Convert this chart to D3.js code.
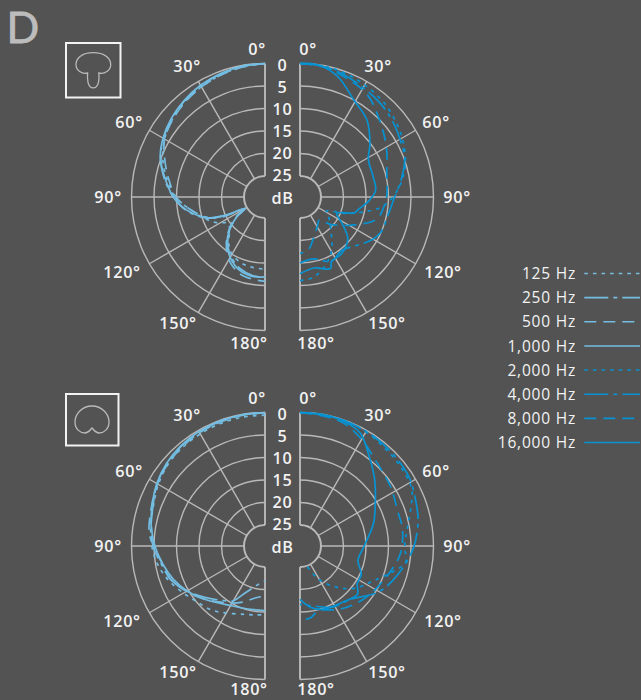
<!DOCTYPE html>
<html><head><meta charset="utf-8">
<script src="https://cdn.jsdelivr.net/npm/d3@7"></script>
<style>
html,body{margin:0;padding:0;background:#535353;overflow:hidden}
text{font-family:"Open Sans",sans-serif;font-weight:600;fill:#f2f2f2;letter-spacing:.7px}
</style></head><body><svg id="c" width="641" height="700"></svg>
<script>
// ---- data: [angle in degrees, attenuation in dB]
const frequencies = ["125 Hz","250 Hz","500 Hz","1,000 Hz","2,000 Hz","4,000 Hz","8,000 Hz","16,000 Hz"];
const dbTicks = [0,5,10,15,20,25];
const angleTicks = [0,30,60,90,120,150,180];

const a125 = [[0,0],[10,.3],[20,.8],[30,1.4],[40,2],[50,2.8],[60,3.9],[70,5.5],[80,7.6],[90,9.7],[100,13],[110,15.5],[118,17.5],[125,19.5],[133,19],[141,16.8],[150,15],[162,14],[170,13.8],[180,13.6]];
const a250 = [[0,0],[10,.2],[20,.6],[30,1.1],[40,1.8],[50,2.6],[60,3.6],[70,5],[80,7],[90,9.3],[100,12],[110,16],[115,20],[120,24.5],[125,22],[133,19],[141,16.5],[150,14.5],[161,12.8],[171,12],[180,11.8]];
const a500 = [[0,0],[10,.4],[20,.9],[30,1.4],[40,2.1],[50,2.9],[60,3.9],[70,6],[80,8],[90,9.9],[100,13],[110,16.2],[115,19],[120,24],[125,21.5],[133,18.6],[141,16],[150,13.6],[161,11.8],[171,11.2],[180,10.9]];
const a1000 = [[0,0],[10,.1],[20,.5],[30,1],[40,1.7],[50,2.5],[60,3.5],[70,4.9],[80,7.2],[90,9.3],[100,12.2],[110,16.2],[115,20.3],[120,24.7],[125,22],[133,18.9],[141,16.2],[150,14.2],[161,12.4],[171,11.8],[180,11.9]];

const b2000 = [[0,0],[10,.1],[20,.4],[30,.9],[40,1.5],[46,2],[55,2.9],[63,3.8],[73,5.2],[85,7.7],[96,11],[103,15],[110,19],[118,23],[127,21.5],[136,19.8],[150,15.7],[160,13.4],[171,11.5],[180,11.1]];
const b4000 = [[0,0],[10,.2],[20,.8],[30,1.6],[40,2.2],[50,3],[60,4],[70,4.9],[80,6.8],[92,8.9],[100,9.6],[114,10.1],[121,11.1],[130,13],[142,14.6],[154,13.8],[168,15.6],[180,15]];
const b8000 = [[0,0],[10,.3],[20,1.2],[33,2.4],[46,5.1],[60,7.5],[75,9.7],[90,10.4],[98,11],[106,11.9],[117,16],[132,20.6],[140,23],[150,22],[162,20],[171,17.8],[180,17.1]];
const b16000 = [[0,0],[7,0],[17,1.5],[29,5],[41,7],[53,10.2],[61,12.3],[75,12.8],[85,12.8],[93.5,14.4],[102,16.4],[106,17],[114,20.7],[121.6,18.8],[131,15.6],[144,14],[153.7,13.8],[157,12.4],[169,13.6],[180,12.6]];

const c125 = [[0,.6],[10,.6],[20,.7],[30,.9],[40,1.1],[50,1.5],[60,2.3],[70,3.3],[80,3.9],[90,4.5],[100,5.5],[110,7],[121,8.9],[130,10.2],[139,11],[148,12.2],[163,13.8],[172,14.2],[180,14.4]];
const c250 = [[0,0],[10,.1],[20,.2],[30,.4],[40,.7],[50,1.2],[60,2],[70,3.2],[80,4],[90,4.8],[100,6.3],[110,7.5],[120,9.7],[130,12],[140,14],[150,15.6],[156,18],[170,21],[180,21.9]];
const c500 = [[0,.1],[10,.2],[20,.4],[30,.6],[40,1],[50,1.4],[60,2.1],[70,2.9],[84,3.8],[90,5],[100,6.5],[110,7.5],[120,9.5],[130,11.5],[140,13.5],[150,15],[160,16.5],[170,18],[180,18.5]];
const c1000 = [[0,0],[10,.1],[20,.2],[30,.3],[40,.6],[50,1.1],[60,1.9],[70,3],[80,4],[90,5.2],[100,6.6],[110,8],[120,9.7],[130,11.5],[140,13.2],[150,14.4],[160,15],[170,15.3],[180,15.3]];

const d2000 = [[0,0],[10,.1],[20,.2],[30,.4],[44,1],[54,1.3],[63,1.8],[70.5,3.5],[80,5.4],[90,6.4],[98.7,5.9],[104,7.7],[115,11.5],[128,14.4],[138,17.3],[150.7,21.2],[161,25]];
const d4000 = [[0,0],[10,.1],[20,.1],[34,.3],[45,.6],[57.5,1],[68,2],[77.7,2.8],[90,4.3],[96,5.3],[103.7,6.6],[111.8,7.9],[121,9.6],[136.5,13.3],[152,14.3],[165,15.8],[180,16.7]];
const d8000 = [[0,0],[10,.3],[19.5,.7],[30,2.3],[40,4.1],[56.7,5.6],[69.7,6.6],[81,6.6],[94.4,7.3],[105,8.7],[124,10.7],[138.5,12.1],[149.7,13.3],[164,14.7],[172,13.5],[180,13.3]];
const d16000 = [[0,0],[10,0],[19,.3],[28,1.2],[37,4.3],[48.5,7.5],[58.4,10],[73,12.6],[90,15.4],[104,16.4],[114.5,14.7],[123.6,14.4],[130,13],[143,14],[159.6,14.7],[170,15.8],[180,17.8]];

// ---- styling / layout
const BG="#535353", GRID="#b9b9b9", LIGHT="#74bde2", DARK="#0693d3";
const dashes=["3.6 5","24 5 4 5","12 7","none"];
const styles=frequencies.map((f,i)=>({color:i<4?LIGHT:DARK,dash:dashes[i%4]}));
const R=133.5, FS=16.2;
const r=d3.scaleLinear().domain([0,25]).range([R,R-112.5]);
const dbLabelY=d3.scaleLinear().domain([0,25]).range([-132,-21.5]);
const labelOffsets={0:[8,-148],30:[78,-131],60:[136,-75],90:[157,0],120:[143,75],150:[87,126],180:[16,146]};
const svg=d3.select("#c");
svg.append("rect").attr("width",641).attr("height",700).attr("fill",BG);

svg.append("text").attr("x",6.5).attr("y",43).attr("font-size",43).style("font-family","Lato,sans-serif").style("fill","#bdbdbd").style("stroke","#bdbdbd").style("stroke-width",.8).style("font-weight",400).style("letter-spacing",0).text("D");

function half(cx,cy,s,series,styleIdx){
  const g=svg.append("g").attr("transform",`translate(${cx},${cy})`);
  const rad=d=>d*Math.PI/180*s;
  g.selectAll("path.ring").data(dbTicks).join("path").attr("class","ring")
    .attr("d",d=>`M0,${-r(d)}A${r(d)},${r(d)} 0 0 ${s>0?1:0} 0,${r(d)}`)
    .attr("fill","none").attr("stroke",GRID).attr("stroke-width",d=>d===25?2:1.4);
  g.selectAll("line.sp").data(angleTicks).join("line").attr("class","sp")
    .attr("x1",d=>Math.sin(rad(d))*r(25)).attr("y1",d=>-Math.cos(rad(d))*r(25))
    .attr("x2",d=>Math.sin(rad(d))*r(0)).attr("y2",d=>-Math.cos(rad(d))*r(0))
    .attr("stroke",GRID).attr("stroke-width",d=>(d===0||d===180)?1.9:1.4);
  const line=d3.lineRadial().angle(d=>rad(d[0])).radius(d=>r(d[1])).curve(d3.curveCatmullRom.alpha(.5));
  series.forEach((arr,i)=>{
    const st=styles[styleIdx+i];
    g.append("path").attr("d",line(arr)).attr("fill","none").attr("stroke",st.color)
      .attr("stroke-width",1.7).attr("stroke-dasharray",st.dash);
  });
  // the bottom row of labels is kept clear of the page edge
  const maxY=700-cy-FS*0.36-FS*0.3-0.3;
  g.selectAll("text.a").data(angleTicks).join("text").attr("class","a")
    .attr("x",d=>labelOffsets[d][0]*s).attr("y",d=>Math.min(labelOffsets[d][1],maxY)).attr("dy","0.36em")
    .attr("text-anchor","middle").attr("font-size",FS).text(d=>d+"°");
}

function dbLabels(cy){
  const g=svg.append("g").attr("transform",`translate(282.5,${cy})`);
  g.selectAll("text").data(dbTicks).join("text")
    .attr("y",d=>dbLabelY(d)).attr("dy","0.36em").attr("text-anchor","middle").attr("font-size",FS).text(d=>d);
  g.append("text").attr("y",1).attr("dy","0.36em").attr("text-anchor","middle").attr("font-size",FS).text("dB");
}

const cyTop=197, cyBot=546;
half(265,cyTop,-1,[a125,a250,a500,a1000],0);
half(300,cyTop,1,[b2000,b4000,b8000,b16000],4);
half(265,cyBot,-1,[c125,c250,c500,c1000],0);
half(300,cyBot,1,[d2000,d4000,d8000,d16000],4);
dbLabels(cyTop); dbLabels(cyBot);

// icons
svg.append("rect").attr("x",66).attr("y",43).attr("width",54.5).attr("height",54.5).attr("fill","none").attr("stroke","#f2f2f2").attr("stroke-width",2);
svg.append("path").attr("d","M93.2,52.7C82,52.7 76,58 76,64.5C76,70.5 82,74.5 87.6,73C87.2,78 87.2,87.8 93.2,87.8C99.2,87.8 99.4,78 98.8,73C104.6,74.5 110.7,70.5 110.7,64.5C110.7,58 104.5,52.7 93.2,52.7Z")
  .attr("fill","none").attr("stroke","#b9b9b9").attr("stroke-width",1.3);
svg.append("rect").attr("x",66).attr("y",394).attr("width",52.5).attr("height",51.5).attr("fill","none").attr("stroke","#f2f2f2").attr("stroke-width",2);
svg.append("path").attr("d","M92,406C82,406 75,414 75,422C75,429 80,433 85,433C88.5,433 90,430 92,428C94,430 95.5,433 99,433C104,433 109,429 109,422C109,414 102,406 92,406Z")
  .attr("fill","none").attr("stroke","#b9b9b9").attr("stroke-width",1.3);

// legend
const legendY=d3.scalePoint().domain(frequencies).range([273.5,442.5]);
const lg=svg.append("g");
lg.selectAll("text").data(frequencies).join("text").attr("x",576).attr("y",d=>legendY(d)).attr("dy","0.36em")
  .attr("text-anchor","end").attr("font-size",15.5).style("font-weight",500).style("letter-spacing",".8px").text(d=>d);
lg.selectAll("line").data(frequencies).join("line").attr("x1",584.3).attr("x2",640)
  .attr("y1",d=>legendY(d)).attr("y2",d=>legendY(d))
  .attr("stroke",(d,i)=>styles[i].color).attr("stroke-width",1.6).attr("stroke-dasharray",(d,i)=>styles[i].dash);
</script></body></html>
